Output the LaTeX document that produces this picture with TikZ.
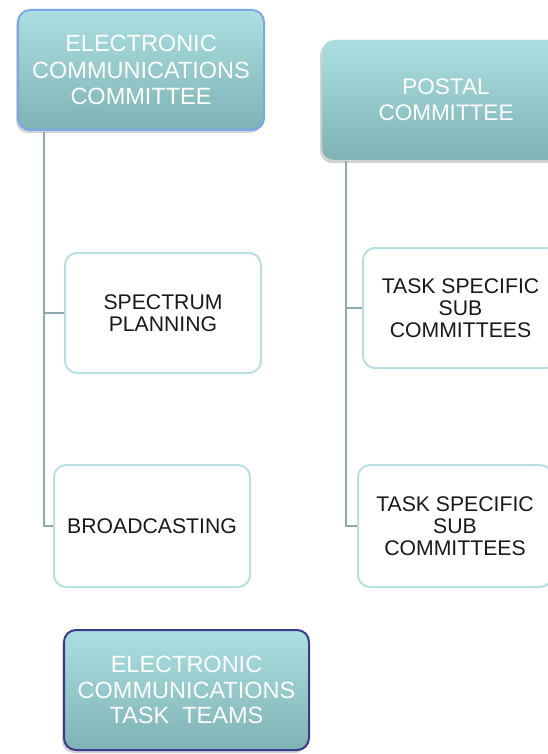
\documentclass[tikz,border=0pt]{standalone}
\usepackage{fontspec}
\setmainfont{Liberation Sans}
\usetikzlibrary{shadows}
\definecolor{tealtop}{HTML}{ABDFE2}
\definecolor{tealbot}{HTML}{7FB2B5}
\definecolor{eccborder}{HTML}{7EA6EA}
\definecolor{navyborder}{HTML}{3B3B8E}
\definecolor{lightborder}{HTML}{B8E0E3}
\definecolor{connc}{HTML}{8EAAAD}
\tikzset{
  tealbox/.style={rectangle, rounded corners=12pt, top color=tealtop, bottom color=tealbot,
    text=white, align=center, inner sep=0pt,
    drop shadow={shadow xshift=-2pt, shadow yshift=-3pt, opacity=0.35, fill=gray}},
  whitebox/.style={rectangle, rounded corners=12pt, draw=lightborder, line width=2pt, fill=white,
    text=black!90, align=center, inner sep=0pt,
    font=\fontsize{21.2}{22}\selectfont},
  conn/.style={draw=connc, line width=2.5pt}
}
\begin{document}
\begin{tikzpicture}[x=1pt,y=-1pt]
\useasboundingbox (0,0) rectangle (548,754);
\clip (0,0) rectangle (548,754);
\fill[white] (0,0) rectangle (548,754);
\node[tealbox, draw=eccborder, line width=2pt, minimum width=246pt, minimum height=120pt,
  font=\fontsize{23.5}{26.5}\selectfont] (ecc) at (141,70) {ELECTRONIC\\COMMUNICATIONS\\COMMITTEE};
\node[tealbox, minimum width=248pt, minimum height=120pt,
  font=\fontsize{22.5}{26}\selectfont] (pc) at (446,100) {POSTAL\\COMMITTEE};
\node[whitebox, minimum width=196pt, minimum height=120pt] (sp) at (163,313) {SPECTRUM\\PLANNING};
\node[whitebox, minimum width=196pt, minimum height=122pt] (bc) at (152,526) {BROADCASTING};
\node[whitebox, minimum width=195pt, minimum height=120pt] (t1) at (460.5,308) {TASK SPECIFIC\\SUB\\COMMITTEES};
\node[whitebox, minimum width=194pt, minimum height=122pt] (t2) at (455,526) {TASK SPECIFIC\\SUB\\COMMITTEES};
\node[tealbox, draw=navyborder, line width=2pt, minimum width=245pt, minimum height=120pt,
  font=\fontsize{23.5}{25.5}\selectfont] (ectt) at (186.5,690) {ELECTRONIC\\COMMUNICATIONS\\TASK\ \ TEAMS};
\draw[conn] (ecc.south west) ++(27,1) |- (sp.west);
\draw[conn] (ecc.south west) ++(27,1) |- (bc.west);
\draw[conn] (pc.south west) ++(24,1) |- (t1.west);
\draw[conn] (pc.south west) ++(24,1) |- (t2.west);
\end{tikzpicture}
\end{document}
